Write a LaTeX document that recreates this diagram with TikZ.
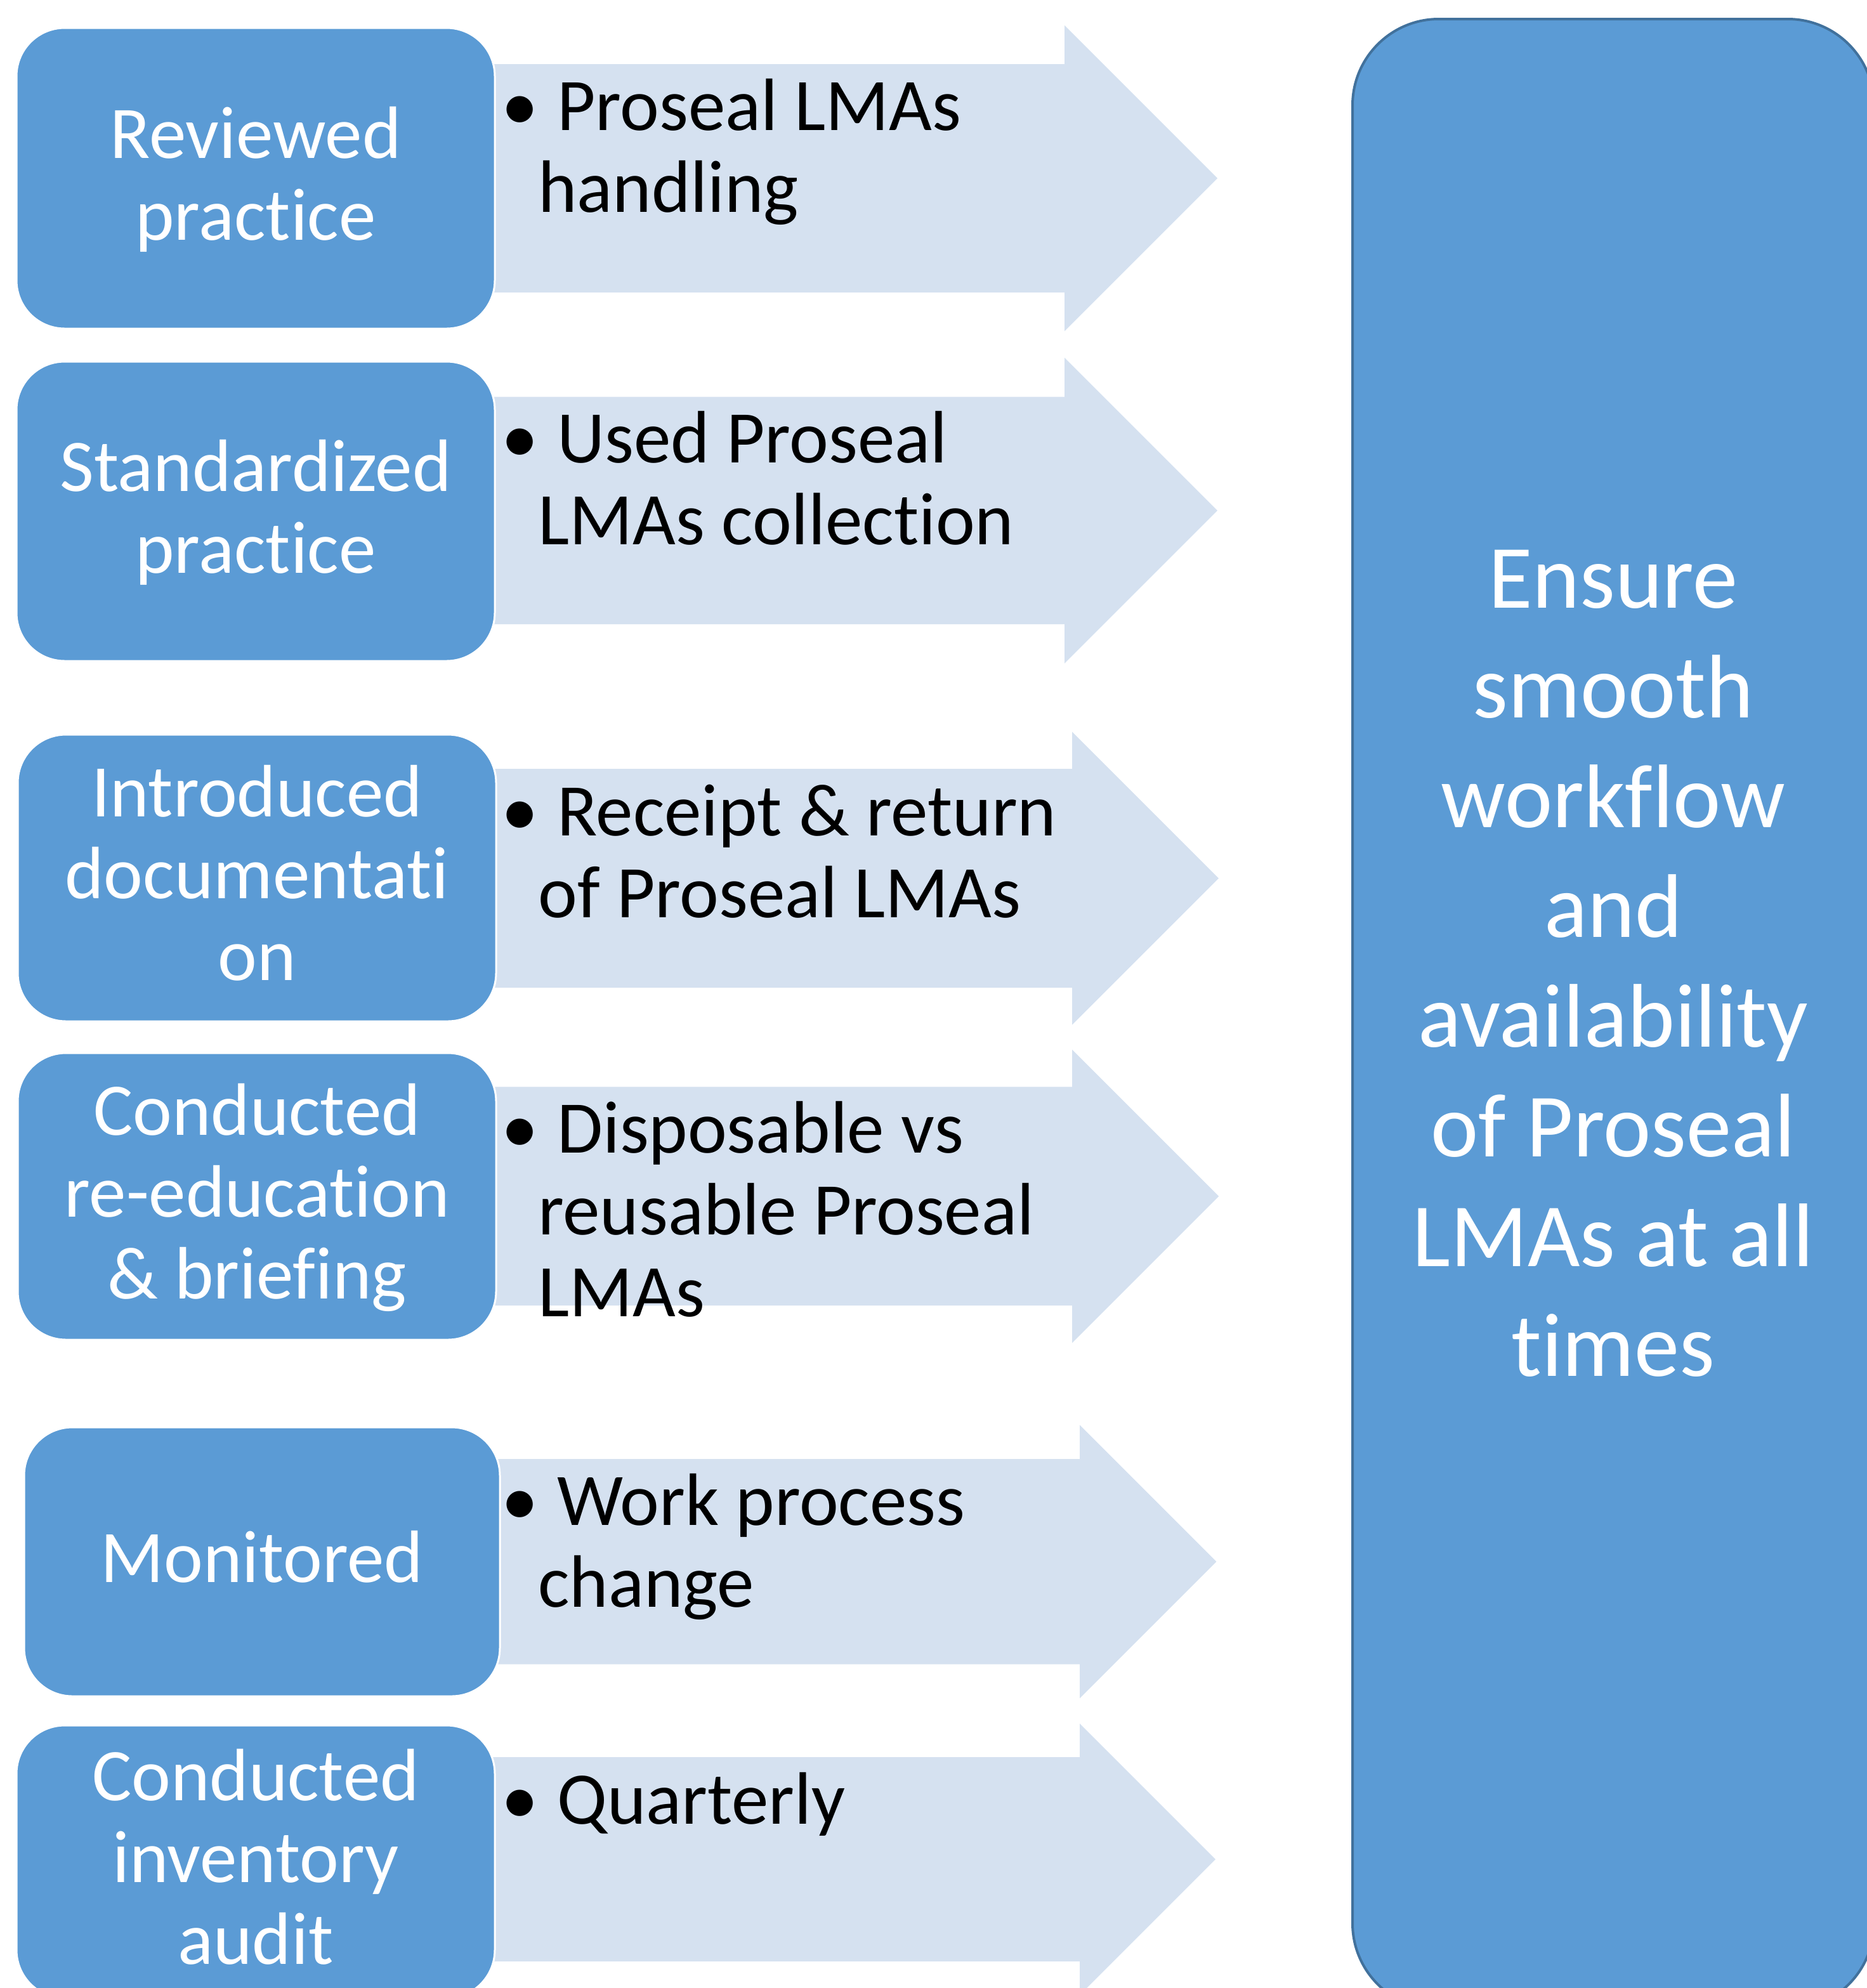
\documentclass[tikz,border=0pt]{standalone}
\usepackage{fontspec}
\setmainfont{Carlito}[Ligatures={NoCommon,NoContextual}]
\usepackage{xcolor}
\usepackage{tikz}
\definecolor{actfill}{RGB}{91,155,213}
\definecolor{goaledge}{RGB}{65,113,156}
\definecolor{arrfill}{RGB}{213,225,240}
\newcommand\actfont{\fontsize{58.5}{64.5}\selectfont}
\newcommand\goalfont{\fontsize{71.2}{86.5}\selectfont}
\newcommand\bul{\hspace*{-29pt}\makebox[44pt][l]{•}}
\tikzstyle{act} =[rounded corners=38pt,fill=actfill,draw=white,line width=1.5pt,text=white,align=center,font=\actfont,inner sep=0pt,text depth=8pt,minimum width=377pt]
\tikzstyle{goal}=[rounded corners=68pt,fill=actfill,draw=goaledge,line width=2pt,inner sep=0pt,minimum width=411pt,minimum height=1569pt]
\tikzstyle{goaltxt}=[text=white,align=flush center,font=\goalfont,inner sep=0pt,text width=411pt,anchor=base]
\tikzstyle{note}=[anchor=base west,align=flush left,font=\actfont,inner sep=0pt,text width=540pt]

\begin{document}
\begin{tikzpicture}[x=1pt,y=-1pt]
	\useasboundingbox (0,0) rectangle (1471.5,1567);
	\clip (0,0) rectangle (1471.5,1567);
	% arrows behind the boxes: centre / shaft / head / head base
	\foreach \c/\s/\h/\b in {140.5/90/120.5/839, 402.4/89.6/120.5/839, 692.3/86.3/115.5/845, 942.9/86.2/115.6/845, 1230.9/80.9/107.7/851, 1465.5/80.5/107/851}
	  \fill[arrfill] (300,\c-\s) -- (\b,\c-\s) -- (\b,\c-\h) -- (\b+\h,\c) -- (\b,\c+\h) -- (\b,\c+\s) -- (300,\c+\s) -- cycle;
	\node[act,minimum height=237pt] (rev) at (201.5,140.5)  {Reviewed\\practice};
	\node[act,minimum height=236pt] (std) at (201.5,403)    {Standardized\\practice};
	\node[act,minimum height=226pt] (doc) at (202.5,692)    {Introduced\\documentati\\on};
	\node[act,minimum height=226pt] (edu) at (202.5,943)    {Conducted\\re-education\\\& briefing};
	\node[act,minimum height=212pt,minimum width=375pt] (mon) at (206.5,1231) {Monitored};
	\node[act,minimum height=215pt] (aud) at (201.5,1467.5) {Conducted\\inventory\\audit};
	\node[goal] (smooth) at (1271.5,799.5) {};
	\node[goaltxt] (smoothtxt) at (1271.5,479) {Ensure\\smooth\\workflow\\and\\availability\\of Proseal\\LMAs at all\\times};
	\node[note] (revnote) at (424,102.7)  {\bul Proseal LMAs\\handling};
	\node[note] (stdnote) at (424,364.8)  {\bul Used Proseal\\LMAs collection};
	\node[note] (docnote) at (424,658.5)  {\bul Receipt \& return\\of Proseal LMAs};
	\node[note] (edunote) at (424,908.7)  {\bul Disposable vs\\reusable Proseal\\LMAs};
	\node[note] (monnote) at (424,1202.3) {\bul Work process\\change};
	\node[note] (audnote) at (424,1437.7) {\bul Quarterly};
\end{tikzpicture}
\end{document}
